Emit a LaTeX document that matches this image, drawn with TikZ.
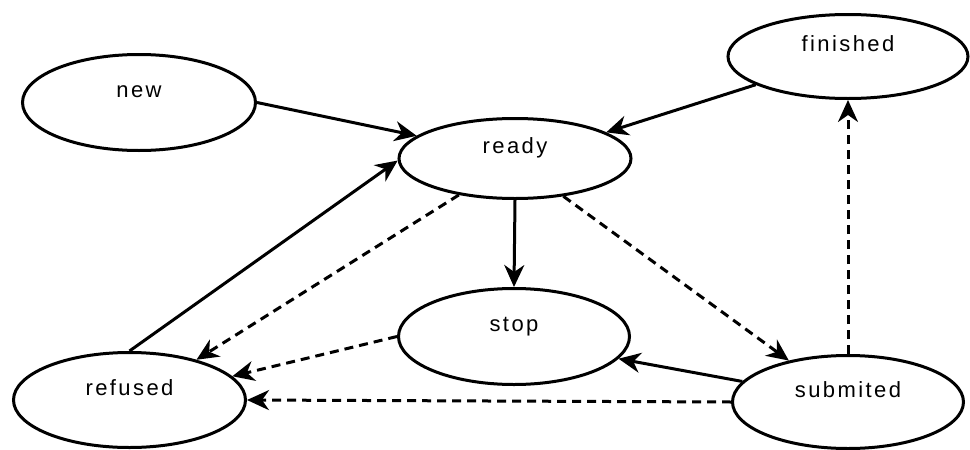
\documentclass[tikz,border=0pt]{standalone}
\usepackage{fontspec}
\newfontfamily\lblfont{Liberation Sans}[LetterSpace=11]
\usetikzlibrary{shapes.geometric,arrows.meta}
\begin{document}
\begin{tikzpicture}[x=1pt,y=-1pt,
  state/.style={ellipse, draw, line width=3pt, fill=white, inner sep=0pt,
    text height=16pt, text depth=26pt, font=\lblfont\fontsize{22}{26}\selectfont},
  conn/.style={line width=3pt, -{Stealth[length=22pt,width=20pt,inset=7pt]}},
  dconn/.style={conn, dash pattern=on 9pt off 6pt}]
\useasboundingbox (0,0) rectangle (970,450);
\node[state, minimum width=233pt, minimum height=96pt] (new) at (139,102.5) {new};
\node[state, minimum width=232pt, minimum height=80pt] (ready) at (515,158.5) {ready};
\node[state, minimum width=240pt, minimum height=84pt] (finished) at (848,56.5) {finished};
\node[state, minimum width=231pt, minimum height=96pt] (stop) at (514,336.5) {stop};
\node[state, minimum width=232pt, minimum height=95pt] (refused) at (129.5,400) {refused};
\node[state, minimum width=231pt, minimum height=93pt] (submited) at (848,402) {submited};

\draw[conn] (new.0) -- (ready.167.7);
\draw[conn] (refused.90) -- (ready.181.5);
\draw[conn] (finished.197.4) -- (ready.16.2);
\draw[conn] (ready.south) -- (stop.north);
\draw[dconn] (ready.213.3) -- (refused.31.5);
\draw[dconn] (ready.322.5) -- (submited.145.5);
\draw[dconn] (stop.180) -- (refused.13);
\draw[conn] (submited.169.5) -- (stop.348.1);
\draw[dconn] (submited.180) -- (refused.0);
\draw[dconn] (submited.north) -- (finished.south);
\end{tikzpicture}
\end{document}
